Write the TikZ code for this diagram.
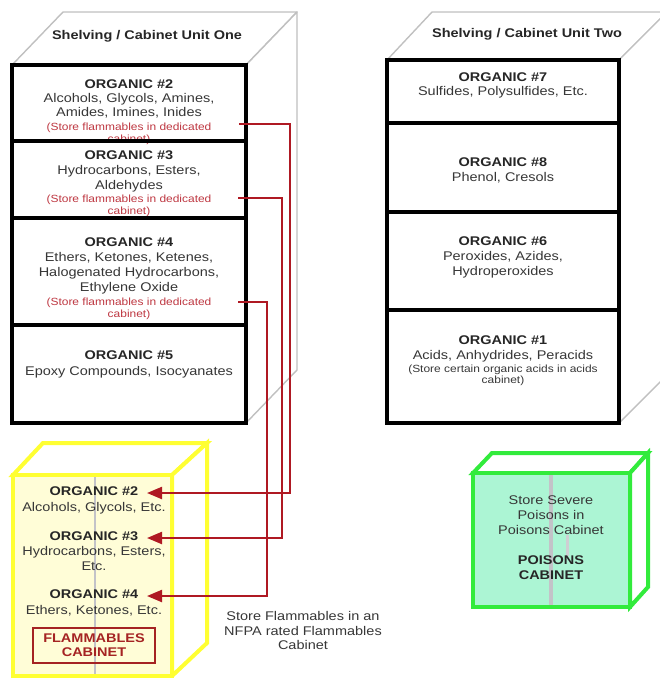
\documentclass[tikz,border=0pt]{standalone}
\usepackage{fontspec}
\setmainfont[FakeStretch=1.15]{Liberation Sans}
\usetikzlibrary{arrows.meta}
\definecolor{cubegray}{RGB}{192,192,192}
\definecolor{notered}{RGB}{190,55,65}
\definecolor{connred}{RGB}{175,25,35}
\definecolor{yel}{RGB}{255,255,50}
\definecolor{yelfill}{RGB}{255,253,215}
\definecolor{grn}{RGB}{50,235,60}
\definecolor{grnfill}{RGB}{172,245,212}
\definecolor{flamred}{RGB}{165,35,35}
\definecolor{bodytext}{RGB}{55,55,55}
\definecolor{polegray}{RGB}{195,195,200}
\begin{document}
\begin{tikzpicture}[x=1pt,y=-1pt,
  txt/.style={font=\fontsize{12.6}{14}\selectfont, text=bodytext, inner sep=0pt, anchor=mid},
  hd/.style={font=\bfseries\fontsize{12.6}{14}\selectfont, text=black!85, inner sep=0pt, anchor=mid},
  note/.style={font=\fontsize{10.4}{12}\selectfont, text=notered, inner sep=0pt, anchor=mid},
  gnote/.style={note, text=bodytext},
  cube/.style={draw=cubegray, line width=1.4pt, fill=white, line join=round},
  frame/.style={draw=black, line width=4pt},
  yface/.style={draw=yel, line width=4pt, line join=miter},
  gface/.style={draw=grn, line width=4pt, line join=miter},
  conn/.style={draw=connred, line width=2.2pt, -{Triangle[length=15pt,width=12pt,fill=connred]}},
  flambox/.style={draw=flamred, line width=2pt, minimum width=122pt, minimum height=35pt, inner sep=0pt,
    align=center, font=\bfseries\fontsize{12.6}{14}\selectfont, text=flamred},
]
\useasboundingbox (0,0) rectangle (660,678);
\clip (0,0) rectangle (660,678);

% ---------- Unit One cube ----------
\draw[cube] (12,65) -- (63,12) -- (297,12) -- (246,65) -- cycle;
\draw[cube] (246,65) -- (297,12) -- (297,370) -- (246,423) -- cycle;
\fill[white] (12,65) rectangle (246,423);
\node[hd] (u1t) at (147,37) {Shelving / Cabinet Unit One};

\node[hd]   (o2h) at (129,86)  {ORGANIC \#2};
\node[txt]  (o2a) at (129,100) {Alcohols, Glycols, Amines,};
\node[txt]  (o2b) at (129,114) {Amides, Imines, Inides};
\node[note] (o2n) at (129,128) {(Store flammables in dedicated};
\node[note] (o2m) at (129,140) {cabinet)};

\node[hd]   (o3h) at (129,157) {ORGANIC \#3};
\node[txt]  (o3a) at (129,172) {Hydrocarbons, Esters,};
\node[txt]  (o3b) at (129,187) {Aldehydes};
\node[note] (o3n) at (129,200) {(Store flammables in dedicated};
\node[note] (o3m) at (129,212) {cabinet)};

\node[hd]   (o4h) at (129,244) {ORGANIC \#4};
\node[txt]  (o4a) at (129,259) {Ethers, Ketones, Ketenes,};
\node[txt]  (o4b) at (129,274) {Halogenated Hydrocarbons,};
\node[txt]  (o4c) at (129,289) {Ethylene Oxide};
\node[note] (o4n) at (129,303) {(Store flammables in dedicated};
\node[note] (o4m) at (129,315) {cabinet)};

\node[hd]   (o5h) at (129,357) {ORGANIC \#5};
\node[txt]  (o5a) at (129,373) {Epoxy Compounds, Isocyanates};

\draw[frame] (12,65) rectangle (246,423);
\draw[frame] (12,141) -- (246,141);
\draw[frame] (12,218) -- (246,218);
\draw[frame] (12,325) -- (246,325);

% ---------- Unit Two cube ----------
\draw[cube] (387,60) -- (432,12) -- (667,12) -- (619,60) -- cycle;
\draw[cube] (619,60) -- (667,12) -- (667,375) -- (619,423) -- cycle;
\fill[white] (387,60) rectangle (619,423);
\node[hd] (u2t) at (527,35) {Shelving / Cabinet Unit Two};

\node[hd]  (o7h) at (503,79)  {ORGANIC \#7};
\node[txt] (o7a) at (503,93)  {Sulfides, Polysulfides, Etc.};

\node[hd]  (o8h) at (503,164) {ORGANIC \#8};
\node[txt] (o8a) at (503,179) {Phenol, Cresols};

\node[hd]  (o6h) at (503,243) {ORGANIC \#6};
\node[txt] (o6a) at (503,258) {Peroxides, Azides,};
\node[txt] (o6b) at (503,273) {Hydroperoxides};

\node[hd]    (o1h) at (503,342) {ORGANIC \#1};
\node[txt]   (o1a) at (503,357) {Acids, Anhydrides, Peracids};
\node[gnote] (o1n) at (503,370) {(Store certain organic acids in acids};
\node[gnote] (o1m) at (503,381) {cabinet)};

\draw[frame] (387,60) rectangle (619,423);
\draw[frame] (387,123) -- (619,123);
\draw[frame] (387,212) -- (619,212);
\draw[frame] (387,310) -- (619,310);

% ---------- Flammables cabinet ----------
\draw[yface, fill=white] (13,475) -- (43,443) -- (207,443) -- (172,475) -- cycle;
\draw[yface, fill=white] (172,475) -- (207,443) -- (207,643) -- (172,676) -- cycle;
\draw[yface, fill=yelfill] (13,475) rectangle (172,676);
\draw[polegray, line width=2pt] (95,477) -- (95,674);

\node[hd]  (f2h) at (94,493) {ORGANIC \#2};
\node[txt] (f2a) at (94,509) {Alcohols, Glycols, Etc.};
\node[hd]  (f3h) at (94,538) {ORGANIC \#3};
\node[txt] (f3a) at (94,553) {Hydrocarbons, Esters,};
\node[txt] (f3b) at (94,568) {Etc.};
\node[hd]  (f4h) at (94,596) {ORGANIC \#4};
\node[txt] (f4a) at (94,612) {Ethers, Ketones, Etc.};
\node[flambox] (fbox) at (94,645.5) {FLAMMABLES\\CABINET};

\node[txt] (nf1) at (303,618) {Store Flammables in an};
\node[txt] (nf2) at (303,632.5) {NFPA rated Flammables};
\node[txt] (nf3) at (303,647) {Cabinet};

% ---------- Poisons cabinet ----------
\draw[gface, fill=white] (473,473) -- (492,453) -- (648,453) -- (630,473) -- cycle;
\draw[gface, fill=white] (630,473) -- (648,453) -- (648,587) -- (630,607) -- cycle;
\draw[gface, fill=grnfill] (473,473) rectangle (630,607);
\draw[polegray, line width=4pt] (551,475) -- (551,605);
\draw[polegray!80, line width=3pt] (567,535) -- (567,556);

\node[txt] (g1) at (551,502) {Store Severe};
\node[txt] (g2) at (551,517) {Poisons in};
\node[txt] (g3) at (551,532) {Poisons Cabinet};
\node[hd]  (g4) at (551,562) {POISONS};
\node[hd]  (g5) at (551,577) {CABINET};

% ---------- Connectors ----------
\coordinate (s2) at (239,124);
\coordinate (s3) at (238,198);
\coordinate (s4) at (238,302);
\coordinate (t2) at (147,493);
\coordinate (t3) at (147,538);
\coordinate (t4) at (147,596);
\draw[conn] (s2) -- ++(51,0) |- (t2);
\draw[conn] (s3) -- ++(44,0) |- (t3);
\draw[conn] (s4) -- ++(29,0) |- (t4);
\end{tikzpicture}
\end{document}
